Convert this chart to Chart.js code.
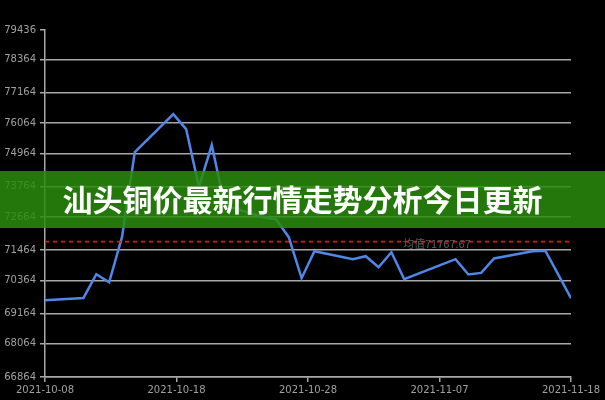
<!DOCTYPE html>
<html>
<head>
<meta charset="utf-8">
<script src="https://cdn.jsdelivr.net/npm/chart.js@4.4.0/dist/chart.umd.min.js"></script>
<style>
  html, body { margin: 0; padding: 0; background: #000; }
  #wrap { width: 605px; height: 400px; position: relative; }
</style>
</head>
<body>
<div id="wrap"><canvas id="c"></canvas></div>
<script>
// trading days and prices (yuan/ton)
const dates = [
    '2021-10-08', '2021-10-11', '2021-10-12', '2021-10-13', '2021-10-14', '2021-10-15',
    '2021-10-18', '2021-10-19', '2021-10-20', '2021-10-21', '2021-10-22',
    '2021-10-25', '2021-10-26', '2021-10-27', '2021-10-28', '2021-10-29',
    '2021-11-01', '2021-11-02', '2021-11-03', '2021-11-04', '2021-11-05',
    '2021-11-09', '2021-11-10', '2021-11-11', '2021-11-12',
    '2021-11-15', '2021-11-16', '2021-11-18'
];
const prices = [
    69646, 69729, 70589, 70298, 71930, 75012,
    76390, 75846, 73743, 75266, 73090,
    72655, 72583, 71930, 70444, 71423,
    71133, 71241, 70842, 71386, 70407,
    71133, 70578, 70636, 71158,
    71423, 71440, 69718
];
const yTicks = [79436, 78364, 77164, 76064, 74964, 73764, 72664, 71464, 70364, 69164, 68064, 66864];
const xTickLabels = ['2021-10-08', '2021-10-18', '2021-10-28', '2021-11-07', '2021-11-18'];
const avgValue = 71767.67;
const avgLabel = '均值71767.67';
const title = '汕头铜价最新行情走势分析今日更新';

const DAY = 86400000;
const t0 = Date.parse(dates[0]);
const points = dates.map((d, i) => ({ x: (Date.parse(d) - t0) / DAY, y: prices[i] }));
const xMax = (Date.parse(dates[dates.length - 1]) - t0) / DAY;

const gridColor = '#a8a8a8';
const tickFont = { family: 'DejaVu Sans', size: 10 };

// average line, its label and the green title banner
const overlay = {
    id: 'overlay',
    afterDatasetsDraw(chart) {
        const { ctx, chartArea } = chart;
        const y = chart.scales.y.getPixelForValue(avgValue);
        ctx.save();
        ctx.strokeStyle = '#dd1414';
        ctx.lineWidth = 1.8;
        ctx.setLineDash([4, 4]);
        ctx.beginPath();
        ctx.moveTo(chartArea.left, y);
        ctx.lineTo(chartArea.right, y);
        ctx.stroke();
        ctx.setLineDash([]);
        ctx.fillStyle = '#5e5e5e';
        ctx.font = '11px "Noto Sans CJK SC"';
        ctx.textAlign = 'center';
        ctx.textBaseline = 'middle';
        ctx.fillText(avgLabel, chartArea.left + chartArea.width * 0.745, y + 2);
        ctx.restore();
    },
    afterDraw(chart) {
        const { ctx, width } = chart;
        ctx.save();
        ctx.fillStyle = 'rgba(42, 140, 12, 0.85)';
        ctx.fillRect(0, 171, width, 57);
        ctx.fillStyle = '#ffffff';
        ctx.font = 'bold 30px "Noto Sans CJK SC"';
        ctx.textAlign = 'center';
        ctx.textBaseline = 'middle';
        ctx.fillText(title, width / 2, 200);
        ctx.restore();
    }
};

new Chart(document.getElementById('c').getContext('2d'), {
    type: 'line',
    data: {
        datasets: [{
            data: points,
            borderColor: '#5087e6',
            borderWidth: 2.5,
            pointRadius: 0,
            fill: false,
            tension: 0
        }]
    },
    options: {
        responsive: true,
        maintainAspectRatio: false,
        animation: false,
        layout: { padding: { top: 30, right: 34, left: 0, bottom: 0 } },
        plugins: { legend: { display: false }, tooltip: { enabled: false } },
        scales: {
            x: {
                type: 'linear',
                min: 0,
                max: xMax,
                afterBuildTicks: scale => {
                    const n = xTickLabels.length - 1;
                    scale.ticks = xTickLabels.map((_, k) => ({ value: scale.min + k * (scale.max - scale.min) / n }));
                },
                afterFit: scale => { scale.height = 23; },
                border: { display: true, color: gridColor, width: 1.5 },
                grid: { drawOnChartArea: false, drawTicks: true, tickLength: 5, tickColor: gridColor, lineWidth: 1.5 },
                ticks: {
                    color: '#a0a0a0',
                    font: tickFont,
                    padding: 2,
                    maxRotation: 0,
                    autoSkip: false,
                    callback: (v, i) => xTickLabels[i]
                }
            },
            y: {
                min: yTicks[yTicks.length - 1],
                max: yTicks[0],
                afterBuildTicks: scale => {
                    scale.ticks = yTicks.slice().reverse().map(v => ({ value: v }));
                },
                afterFit: scale => { scale.width = 45; },
                border: { display: true, color: gridColor, width: 1.5 },
                grid: {
                    color: c => (c.tick && c.tick.value === yTicks[0]) ? 'rgba(0,0,0,0)' : gridColor,
                    tickColor: gridColor,
                    lineWidth: 1.5,
                    tickLength: 5
                },
                ticks: {
                    color: '#a0a0a0',
                    font: tickFont,
                    padding: 4,
                    autoSkip: false,
                    callback: v => String(v)
                }
            }
        }
    },
    plugins: [overlay]
});
</script>
</body>
</html>
